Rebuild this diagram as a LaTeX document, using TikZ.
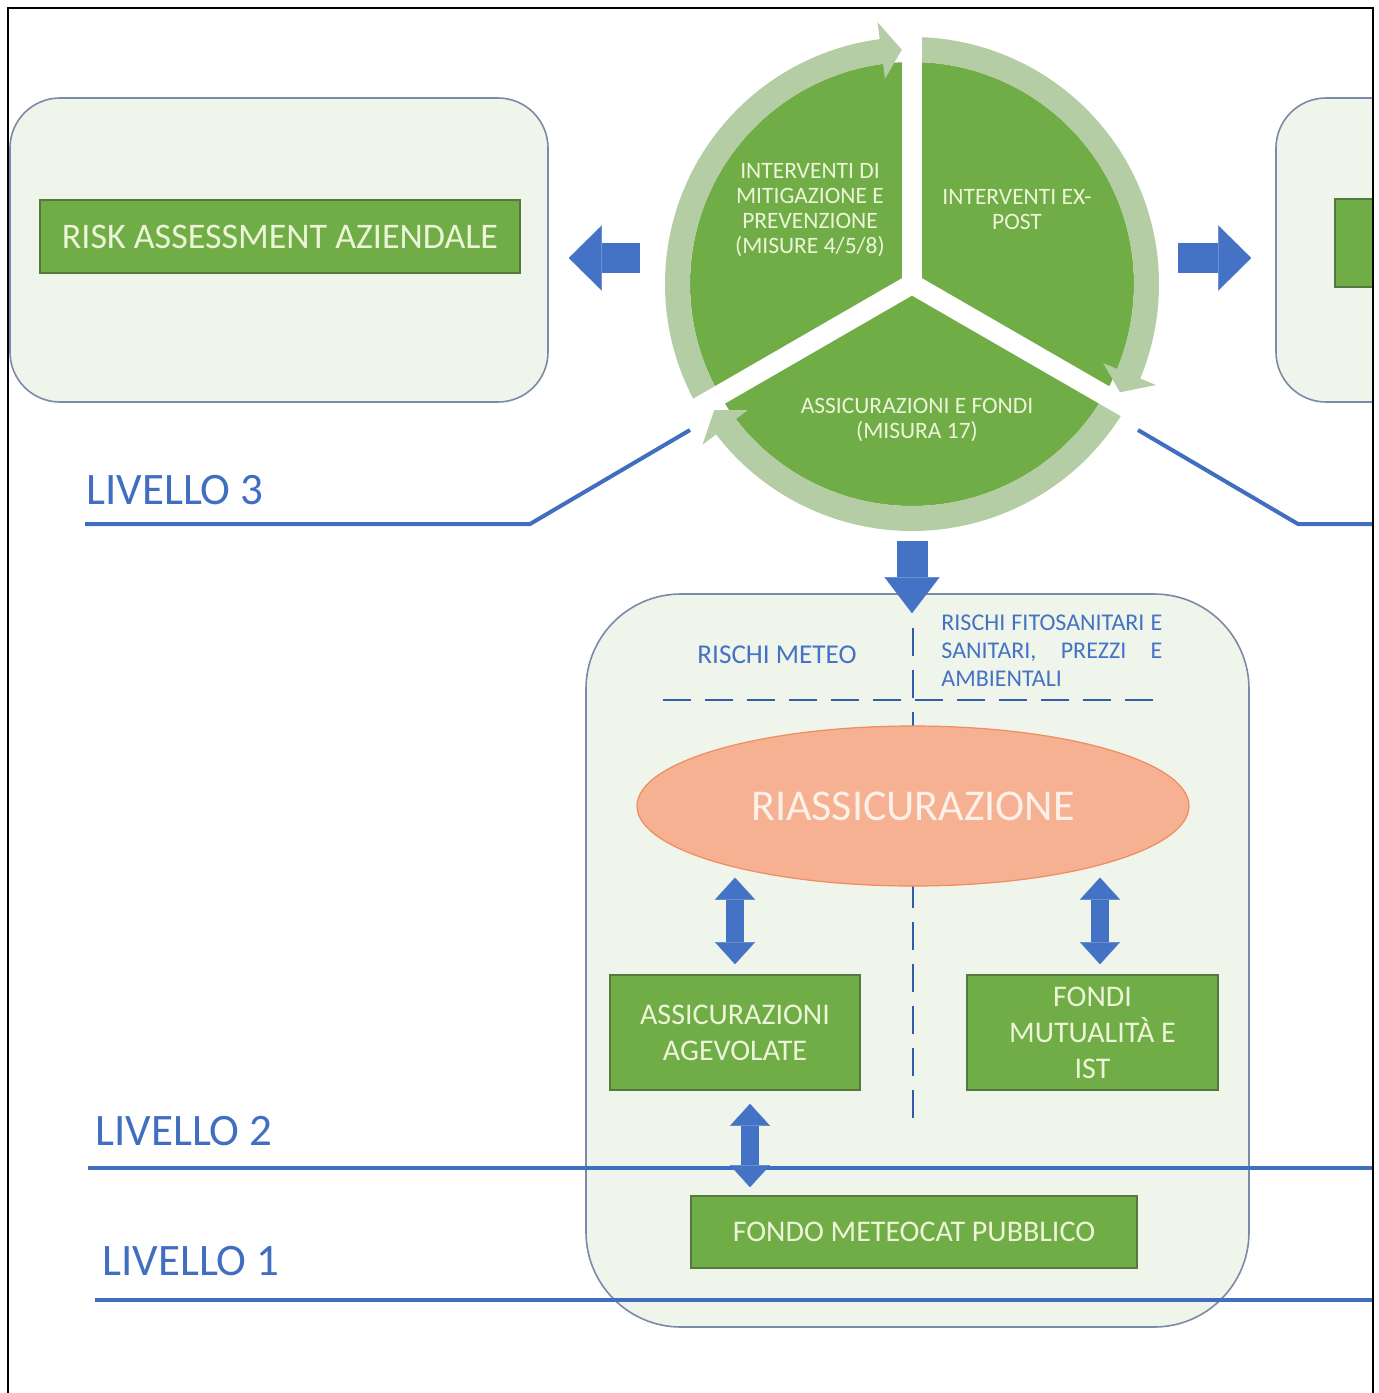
\documentclass[tikz,border=0pt]{standalone}
\usepackage{fontspec}
\setmainfont{Carlito}
\usetikzlibrary{arrows.meta,shapes.geometric}

\definecolor{panelfill}{RGB}{239,245,234}
\definecolor{paneledge}{RGB}{122,138,168}
\definecolor{boxgreen}{RGB}{112,173,71}
\definecolor{boxedge}{RGB}{84,120,64}
\definecolor{lighttext}{RGB}{237,245,216}
\definecolor{ringgreen}{RGB}{180,205,165}
\definecolor{levelblue}{RGB}{64,110,192}
\definecolor{arrowblue}{RGB}{68,114,196}
\definecolor{dashblue}{RGB}{52,92,170}
\definecolor{salmon}{RGB}{246,176,146}
\definecolor{salmonedge}{RGB}{240,140,95}
\definecolor{riasstext}{RGB}{255,240,232}

\begin{document}
\begin{tikzpicture}[x=0.5pt,y=-0.5pt,
  panel/.style={draw=paneledge,fill=panelfill,line width=0.8pt,rounded corners=25pt,inner sep=0pt},
  greenbox/.style={draw=boxedge,fill=boxgreen,line width=0.8pt,inner sep=0pt,text=lighttext,align=center,font=\fontsize{15}{18}\selectfont},
  sectortext/.style={text=lighttext,align=center,inner sep=0pt,font=\fontsize{11.75}{12.5}\selectfont},
  levelline/.style={draw=levelblue,line width=2pt},
  leveltext/.style={text=levelblue,anchor=west,inner sep=0pt,font=\fontsize{22.5}{27}\selectfont},
  sidearrow/.style={draw=arrowblue,line width=15pt,-{Triangle[length=16.5pt,width=32.5pt,line width=0.1pt]}},
  downarrow/.style={draw=arrowblue,line width=15.5pt,-{Triangle[length=18pt,width=27.5pt,line width=0.1pt]}},
  dblarrow/.style={draw=arrowblue,line width=9pt,{Triangle[length=11pt,width=20pt,line width=0.1pt]}-{Triangle[length=11pt,width=20pt,line width=0.1pt]}},
  dashline/.style={draw=dashblue,line width=1.25pt,dash pattern=on 14pt off 7pt}]
\fill[white] (0,0) rectangle (1378,1393);
\useasboundingbox (0,0) rectangle (1378,1393);

\node[panel,minimum width=269pt,minimum height=152pt] (riskpanel) at (279,250) {};
\node[greenbox,minimum width=240pt,minimum height=36.5pt,font=\fontsize{18}{21}\selectfont] (riskbox) at (280,236.5) {RISK ASSESSMENT AZIENDALE};
\begin{scope}
\clip (0,0) rectangle (1373,1393);
\node[panel,minimum width=269pt,minimum height=152pt] (rightpanel) at (1545,250) {};
\node[greenbox,minimum width=240pt,minimum height=44pt] (rightbox) at (1575,243) {};
\draw[levelline] (1138,430) -- (1298,524) -- (1380,524);
\end{scope}

\node[circle,minimum size=248pt,inner sep=0pt] (cycle) at (912,284) {};
\fill[boxgreen] (cycle.center) circle (222);
\fill[ringgreen,shift={(cycle.center)}] (150:247) arc (150:262.5:247) -- (262.5:264) -- (267.5:234.5) -- (262.5:207) -- (262.5:222) arc (262.5:150:222) -- cycle;
\fill[ringgreen,shift={(cycle.center)}] (270:247) arc (270:382.5:247) -- (382.5:264) -- (387.5:234.5) -- (382.5:207) -- (382.5:222) arc (382.5:270:222) -- cycle;
\fill[ringgreen,shift={(cycle.center)}] (30:247) arc (30:142.5:247) -- (142.5:264) -- (147.5:234.5) -- (142.5:207) -- (142.5:222) arc (142.5:30:222) -- cycle;
\draw[white,line width=10pt] (cycle.center) -- ++(270:275);
\draw[white,line width=10pt] (cycle.center) -- ++(30:275);
\draw[white,line width=10pt] (cycle.center) -- ++(150:275);
\node[sectortext] (mitig) at (810,210.5) {INTERVENTI DI\\MITIGAZIONE E\\PREVENZIONE\\(MISURE 4/5/8)};
\node[sectortext] (expost) at (1017,209.5) {INTERVENTI EX-\\POST};
\node[sectortext] (assic) at (917,419.5) {ASSICURAZIONI E FONDI\\(MISURA 17)};

\draw[sidearrow,shorten <=12pt,shorten >=10pt,transform canvas={yshift=-4pt}] (cycle.west |- riskpanel.east) -- (riskpanel.east);
\draw[sidearrow,shorten <=9pt,shorten >=12pt,transform canvas={yshift=-4pt}] (cycle.east |- rightpanel.west) -- (rightpanel.west);

\draw[levelline] (85,524) -- (530,524) -- (690,430);
\node[leveltext] (liv3) at (86,490) {LIVELLO 3};

\node[panel,minimum width=331.5pt,minimum height=366.5pt,rounded corners=47.5pt] (mutpanel) at (917.5,960.5) {};
\draw[downarrow,shorten <=4.5pt,shorten >=-10pt] (cycle.south) -- (cycle.south |- mutpanel.north);

\draw[dashline] (663,700) -- (1160,700);
\draw[dashline] (913,628) -- (913,1130);
\node[text=arrowblue,inner sep=0pt,font=\fontsize{13.6}{16}\selectfont] (meteo) at (777,655) {RISCHI METEO};
\node[text=arrowblue,anchor=west,align=left,inner sep=0pt,font=\fontsize{12}{14}\selectfont] (fitosan) at (941,651) {\makebox[110.5pt][s]{RISCHI FITOSANITARI E}\\\makebox[110.5pt][s]{SANITARI, PREZZI E}\\AMBIENTALI};

\node[ellipse,minimum width=276pt,minimum height=80pt,inner sep=0pt,fill=salmon,draw=salmonedge,line width=0.6pt,text=riasstext,font=\fontsize{22}{26}\selectfont] (riass) at (913,806) {RIASSICURAZIONE};

\node[greenbox,minimum width=125pt,minimum height=57.5pt] (agev) at (735,1032.5) {ASSICURAZIONI\\AGEVOLATE};
\node[greenbox,minimum width=125.5pt,minimum height=57.5pt] (fondi) at (1092.5,1032.5) {FONDI\\MUTUALITÀ E\\IST};
\node[greenbox,minimum width=223pt,minimum height=36pt] (meteocat) at (914,1232) {FONDO METEOCAT PUBBLICO};

\draw[dblarrow,shorten <=-4.5pt,shorten >=5pt] (riass.south -| agev.north) -- (agev.north);
\draw[dblarrow,shorten <=-4.5pt,shorten >=5pt,transform canvas={xshift=3.75pt}] (riass.south -| fondi.north) -- (fondi.north);

\draw[levelline] (88,1168) -- (1373,1168);
\draw[levelline] (95,1300) -- (1373,1300);
\draw[dblarrow,shorten <=6.5pt,shorten >=4pt,transform canvas={xshift=7.5pt}] (agev.south) -- (agev.south |- meteocat.north);
\node[leveltext] (liv2) at (95,1131.5) {LIVELLO 2};
\node[leveltext] (liv1) at (102,1261.5) {LIVELLO 1};

\draw[line width=1pt] (8,1393) -- (8,8) -- (1373,8) -- (1373,1393);
\end{tikzpicture}
\end{document}
